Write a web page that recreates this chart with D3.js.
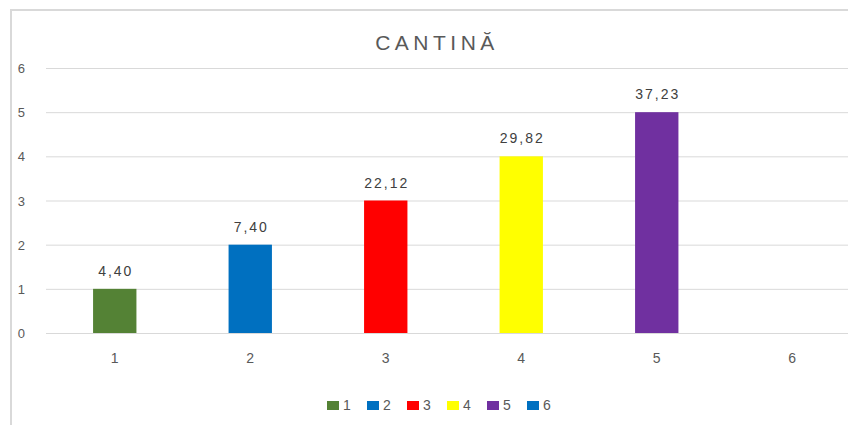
<!DOCTYPE html>
<html>
<head>
<meta charset="utf-8">
<script src="https://cdn.jsdelivr.net/npm/d3@7"></script>
<style>
  body { margin: 0; background: #fff; }
  svg { display: block; font-family: "Liberation Sans", Arial, sans-serif; }
</style>
</head>
<body>
<svg width="848" height="425"></svg>
<script>
// data
const categories = ["1", "2", "3", "4", "5", "6"];
const values = [1, 2, 3, 4, 5, 0];
const labels = ["4,40", "7,40", "22,12", "29,82", "37,23", ""];
const colors = ["#548235", "#0070C0", "#FF0000", "#FFFF00", "#7030A0", "#0070C0"];
const yTicks = [0, 1, 2, 3, 4, 5, 6];

const svg = d3.select("svg");

// chart area border (only top and left are visible in the crop)
svg.append("line").attr("x1", 11).attr("x2", 848).attr("y1", 10).attr("y2", 10)
  .attr("stroke", "#d9d9d9").attr("stroke-width", 2);
svg.append("line").attr("x1", 11).attr("x2", 11).attr("y1", 9).attr("y2", 425)
  .attr("stroke", "#d9d9d9").attr("stroke-width", 2);

const x = d3.scaleBand().domain(categories).range([47, 860]).paddingInner(0.68).paddingOuter(0.34);
const y = d3.scaleLinear().domain([0, 6]).range([333, 68]);

// title
svg.append("text")
  .attr("x", 437).attr("y", 50)
  .attr("text-anchor", "middle")
  .attr("font-size", 21)
  .attr("letter-spacing", 4.5)
  .attr("fill", "#595959")
  .text("CANTINĂ");

// gridlines
svg.append("g").selectAll("line").data(yTicks.filter(d => d > 0)).join("line")
  .attr("x1", 46).attr("x2", 848)
  .attr("y1", d => y(d) + 0.5).attr("y2", d => y(d) + 0.5)
  .attr("stroke", "#d9d9d9").attr("stroke-width", 1);

// y axis labels
svg.append("g").selectAll("text").data(yTicks).join("text")
  .attr("x", 25).attr("y", d => y(d) + 5)
  .attr("text-anchor", "end")
  .attr("font-size", 13)
  .attr("fill", "#595959")
  .text(d => d);

// bars
svg.append("g").selectAll("rect").data(values).join("rect")
  .attr("x", (d, i) => x(categories[i]))
  .attr("width", x.bandwidth())
  .attr("y", d => y(d))
  .attr("height", d => y(0) - y(d))
  .attr("fill", (d, i) => colors[i]);

// zero line on top of bars
svg.append("line").attr("x1", 46).attr("x2", 848)
  .attr("y1", y(0) + 0.5).attr("y2", y(0) + 0.5)
  .attr("stroke", "#d9d9d9").attr("stroke-width", 1);

// value labels
svg.append("g").selectAll("text").data(values).join("text")
  .attr("x", (d, i) => x(categories[i]) + x.bandwidth() / 2 + 1)
  .attr("y", d => y(d) - 13)
  .attr("text-anchor", "middle")
  .attr("font-size", 14)
  .attr("letter-spacing", 2)
  .attr("fill", "#404040")
  .text((d, i) => labels[i]);

// x axis labels
svg.append("g").selectAll("text").data(categories).join("text")
  .attr("x", d => x(d) + x.bandwidth() / 2)
  .attr("y", 363)
  .attr("text-anchor", "middle")
  .attr("font-size", 14)
  .attr("fill", "#595959")
  .text(d => d);

// legend
const legend = svg.append("g").selectAll("g").data(categories).join("g")
  .attr("transform", (d, i) => `translate(${327 + i * 40},401)`);
legend.append("rect").attr("width", 12).attr("height", 9)
  .attr("fill", (d, i) => colors[i]);
legend.append("text").attr("x", 16).attr("y", 9)
  .attr("font-size", 14)
  .attr("fill", "#595959")
  .text(d => d);
</script>
</body>
</html>
